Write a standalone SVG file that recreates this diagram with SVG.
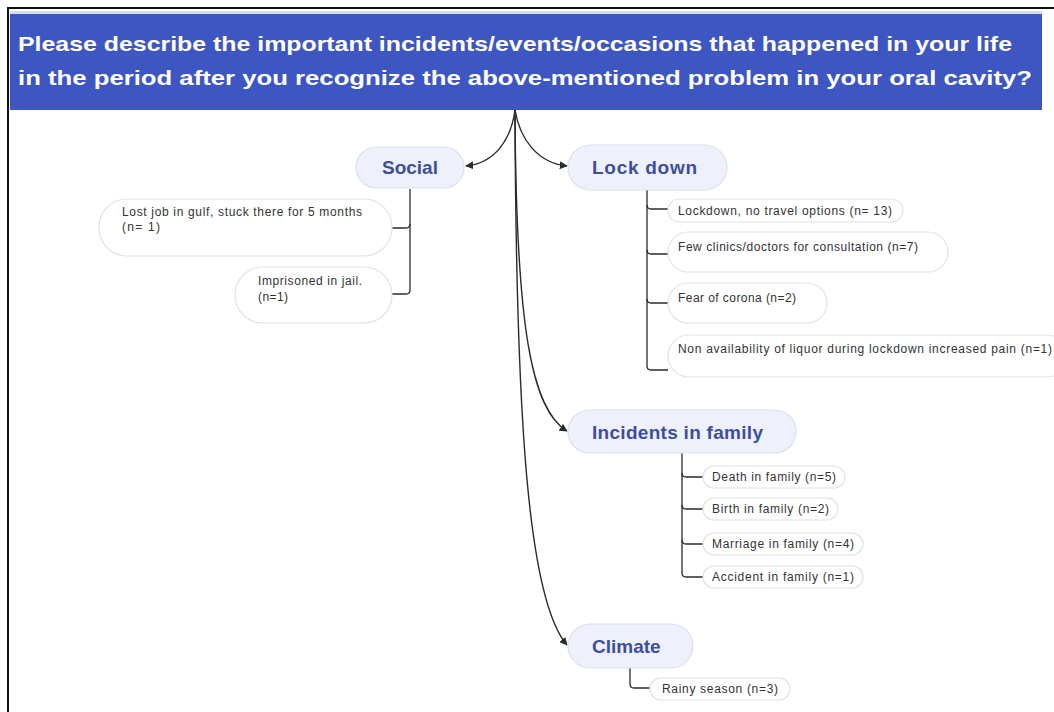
<svg xmlns="http://www.w3.org/2000/svg" width="1054" height="712" viewBox="0 0 1054 712">
  <defs>
    <marker id="arrow" viewBox="0 0 10 10" refX="9" refY="5" markerWidth="8" markerHeight="8" markerUnits="userSpaceOnUse" orient="auto">
      <path d="M0,0 L10,5 L0,10 Z" fill="#2b2b2b"/>
    </marker>
    <style>
      .frame { fill: none; stroke: #111; stroke-width: 2; }
      .header { fill: #3d56c2; }
      .header-text { font-family: "Liberation Sans", Arial, sans-serif; font-weight: bold; font-size: 21px; fill: #ffffff; }
      .topic { fill: #eef0fb; stroke: #dcdff0; stroke-width: 1.2; }
      .topic-text { font-family: "Liberation Sans", Arial, sans-serif; font-weight: bold; font-size: 19px; fill: #3d4f9c; }
      .leaf { fill: #ffffff; stroke: #e2e2e2; stroke-width: 1.2; }
      .leaf-text { font-family: "Liberation Sans", Arial, sans-serif; font-size: 12px; fill: #333333; }
      .link { fill: none; stroke: #2b2b2b; stroke-width: 1.4; }
      .branch { fill: none; stroke: #2b2b2b; stroke-width: 1.3; }
    </style>
  </defs>

  <rect x="0" y="0" width="1054" height="712" fill="#ffffff"/>

  <!-- outer frame (top and left edges) -->
  <path class="frame" d="M8,712 L8,8 L1054,8"/>

  <!-- question header -->
  <g id="question">
    <rect x="10" y="11" width="1032" height="99" fill="#d6e0f2"/>
    <rect class="header" x="10" y="14" width="1032" height="96"/>
    <text class="header-text" x="18" y="51" textLength="994" lengthAdjust="spacingAndGlyphs">Please describe the important incidents/events/occasions that happened in your life</text>
    <text class="header-text" x="18" y="85" textLength="1014" lengthAdjust="spacingAndGlyphs">in the period after you recognize the above-mentioned problem in your oral cavity?</text>
  </g>

  <!-- connectors -->
  <g id="connectors">
    <!-- from question to main topics -->
    <path class="link" d="M515,110 C511,140 495,163 466,166" marker-end="url(#arrow)"/>
    <path class="link" d="M515,110 C520,140 538,163 567,166" marker-end="url(#arrow)"/>
    <path class="link" d="M515,110 C516,330 532,410 567,431" marker-end="url(#arrow)"/>
    <path class="link" d="M515,110 C516,420 528,600 567,645" marker-end="url(#arrow)"/>

    <!-- Social sub-branches -->
    <path class="branch" d="M410,189 L410,224 Q410,228 406,228 L392,228"/>
    <path class="branch" d="M410,224 L410,290 Q410,294 406,294 L392,294"/>

    <!-- Lock down sub-branches -->
    <path class="branch" d="M647,190 L647,205 Q647,209 651,209 L668,209"/>
    <path class="branch" d="M647,205 L647,250 Q647,254 651,254 L668,254"/>
    <path class="branch" d="M647,250 L647,299 Q647,303 651,303 L668,303"/>
    <path class="branch" d="M647,299 L647,366 Q647,370 651,370 L668,370"/>

    <!-- Incidents in family sub-branches -->
    <path class="branch" d="M682,453 L682,473 Q682,477 686,477 L703,477"/>
    <path class="branch" d="M682,473 L682,505 Q682,509 686,509 L703,509"/>
    <path class="branch" d="M682,505 L682,540 Q682,544 686,544 L703,544"/>
    <path class="branch" d="M682,540 L682,573 Q682,577 686,577 L703,577"/>

    <!-- Climate sub-branch -->
    <path class="branch" d="M630,668 L630,684 Q630,688 634,688 L650,688"/>
  </g>

  <!-- Social -->
  <g id="social">
    <rect class="topic" x="356" y="147" width="108" height="41" rx="20.5"/>
    <text class="topic-text" x="382" y="174">Social</text>
  </g>
  <g id="social-job">
    <rect class="leaf" x="99" y="199" width="293" height="57" rx="28"/>
    <text class="leaf-text" x="122" y="216" textLength="240" lengthAdjust="spacing">Lost job in gulf, stuck there for 5 months</text>
    <text class="leaf-text" x="122" y="231" textLength="38" lengthAdjust="spacing">(n= 1)</text>
  </g>
  <g id="social-jail">
    <rect class="leaf" x="235" y="267" width="157" height="56" rx="28"/>
    <text class="leaf-text" x="258" y="285" textLength="104" lengthAdjust="spacing">Imprisoned in jail.</text>
    <text class="leaf-text" x="258" y="301" textLength="30" lengthAdjust="spacing">(n=1)</text>
  </g>

  <!-- Lock down -->
  <g id="lockdown">
    <rect class="topic" x="568" y="145" width="159" height="45" rx="22.5"/>
    <text class="topic-text" x="592" y="174" textLength="105" lengthAdjust="spacing">Lock down</text>
  </g>
  <g id="lockdown-travel">
    <rect class="leaf" x="668" y="199" width="235" height="23" rx="11.5"/>
    <text class="leaf-text" x="678" y="215" textLength="214" lengthAdjust="spacing">Lockdown, no travel options (n= 13)</text>
  </g>
  <g id="lockdown-clinics">
    <rect class="leaf" x="668" y="232" width="280" height="40" rx="20"/>
    <text class="leaf-text" x="678" y="251" textLength="240" lengthAdjust="spacing">Few clinics/doctors for consultation (n=7)</text>
  </g>
  <g id="lockdown-corona">
    <rect class="leaf" x="668" y="283" width="159" height="40" rx="20"/>
    <text class="leaf-text" x="678" y="302" textLength="118" lengthAdjust="spacing">Fear of corona  (n=2)</text>
  </g>
  <g id="lockdown-liquor">
    <rect class="leaf" x="668" y="335" width="400" height="42" rx="21"/>
    <text class="leaf-text" x="678" y="353" textLength="374" lengthAdjust="spacing">Non availability of liquor during lockdown increased pain  (n=1)</text>
  </g>

  <!-- Incidents in family -->
  <g id="family">
    <rect class="topic" x="568" y="410" width="228" height="43" rx="21.5"/>
    <text class="topic-text" x="592" y="439" textLength="171" lengthAdjust="spacing">Incidents in family</text>
  </g>
  <g id="family-death">
    <rect class="leaf" x="703" y="466" width="142" height="22" rx="11"/>
    <text class="leaf-text" x="712" y="481" textLength="124" lengthAdjust="spacing">Death in family (n=5)</text>
  </g>
  <g id="family-birth">
    <rect class="leaf" x="703" y="498" width="135" height="22" rx="11"/>
    <text class="leaf-text" x="712" y="513" textLength="117" lengthAdjust="spacing">Birth in family (n=2)</text>
  </g>
  <g id="family-marriage">
    <rect class="leaf" x="703" y="533" width="160" height="22" rx="11"/>
    <text class="leaf-text" x="712" y="548" textLength="142" lengthAdjust="spacing">Marriage in family (n=4)</text>
  </g>
  <g id="family-accident">
    <rect class="leaf" x="703" y="566" width="160" height="22" rx="11"/>
    <text class="leaf-text" x="712" y="581" textLength="142" lengthAdjust="spacing">Accident in family (n=1)</text>
  </g>

  <!-- Climate -->
  <g id="climate">
    <rect class="topic" x="568" y="624" width="125" height="44" rx="22"/>
    <text class="topic-text" x="592" y="653">Climate</text>
  </g>
  <g id="climate-rain">
    <rect class="leaf" x="650" y="678" width="140" height="22" rx="11"/>
    <text class="leaf-text" x="662" y="693" textLength="116" lengthAdjust="spacing">Rainy season (n=3)</text>
  </g>
</svg>
